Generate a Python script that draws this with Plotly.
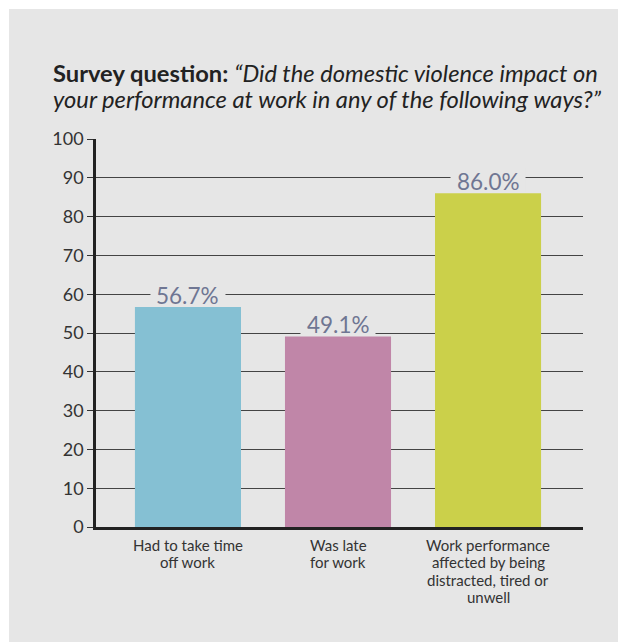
import plotly.graph_objects as go

categories = ["Had to take time<br>off work", "Was late<br>for work",
              "Work performance<br>affected by being<br>distracted, tired or<br>unwell"]
values = [56.7, 49.1, 86.0]
value_labels = ["56.7%", "49.1%", "86.0%"]
bar_colors = ["#85c0d3", "#c086a8", "#cbd04a"]
y_ticks = [0, 10, 20, 30, 40, 50, 60, 70, 80, 90, 100]
title_bold = "Survey question:"
title_lines = ["\u201cDid the domestic violence impact on",
               "your performance at work in any of the following ways?\u201d"]

OFF = 8  # page body margin
W, H = 626, 642
L, R, T, B = 96 - OFF, 583 - OFF, 139 - OFF, 527 - OFF
pw, ph = R - L, B - T
PANEL = "#e6e6e6"

def px(x):
    return (x - OFF - L) / pw

def py(y):
    return (B - (y - OFF)) / ph

xs = list(range(len(categories)))

fig = go.Figure()
fig.add_trace(go.Bar(
    x=xs, y=values, marker=dict(color=bar_colors, line=dict(width=0)),
    width=0.707, hoverinfo="skip", showlegend=False,
))

for x, v, t in zip(xs, values, value_labels):
    # background patch that interrupts the gridlines behind the label
    fig.add_shape(type="rect", xref="x", yref="y", ysizemode="pixel", yanchor=v,
                  x0=x - 0.25, x1=x + 0.25, y0=1, y1=26,
                  fillcolor=PANEL, line=dict(width=0), layer="between")
    fig.add_annotation(
        x=x, y=v, xref="x", yref="y", text=t, showarrow=False,
        yanchor="middle", yshift=12,
        font=dict(family="Lato", size=22.5, color="#6f7693"),
    )

# category labels, one annotation per line for tighter line spacing
for x, cat in zip(xs, categories):
    for i, line in enumerate(cat.split("<br>")):
        fig.add_annotation(
            x=x, xref="x", yref="paper", y=py(545 + 17.3 * i), yanchor="middle",
            text=line, showarrow=False,
            font=dict(family="Lato", size=15, color="#333333"),
        )

fig.add_annotation(
    xref="paper", yref="paper", x=px(51), y=py(73), xanchor="left", yanchor="middle",
    align="left", showarrow=False,
    text="<b>" + title_bold + "</b> <i>" + title_lines[0] + "</i>",
    font=dict(family="Lato", size=23.7, color="#222222"),
)
fig.add_annotation(
    xref="paper", yref="paper", x=px(51), y=py(99), xanchor="left", yanchor="middle",
    align="left", showarrow=False,
    text="<i>" + title_lines[1] + "</i>",
    font=dict(family="Lato", size=23.7, color="#222222"),
)

fig.add_shape(type="rect", xref="paper", yref="paper",
              x0=px(9), x1=px(700), y0=py(9), y1=py(700),
              fillcolor=PANEL, line=dict(width=0), layer="below")

fig.update_layout(
    width=W, height=H,
    margin=dict(l=L, r=W - R, t=T, b=H - B, pad=0),
    paper_bgcolor="white", plot_bgcolor="rgba(0,0,0,0)",
    xaxis=dict(range=[-0.613, 2.633], tickmode="array", tickvals=xs, ticktext=["", "", ""],
               showgrid=False, zeroline=False, showline=True, linecolor="#222222",
               linewidth=2.5, ticks="", fixedrange=True),
    yaxis=dict(range=[0, 100], tickmode="array", tickvals=y_ticks,
               showgrid=True, gridcolor="#444444", gridwidth=1.2, zeroline=False,
               showline=True, linecolor="#222222", linewidth=2.5,
               ticks="outside", ticklen=6, tickwidth=1, tickcolor="#333333",
               tickfont=dict(family="Lato", size=18, color="#333333"), fixedrange=True),
    font=dict(family="Lato"),
)

fig.write_html("out.html")
